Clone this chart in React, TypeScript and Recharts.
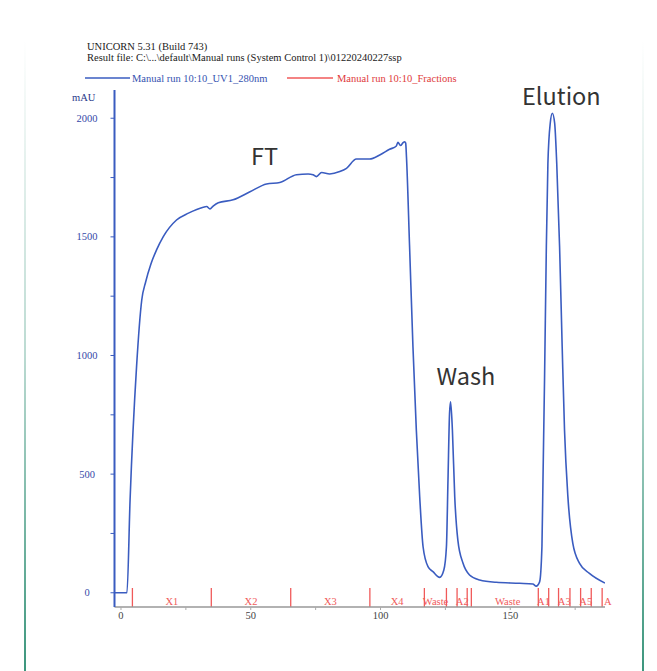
import React from 'react';
import { ComposedChart, Line, XAxis, YAxis, ReferenceLine, ReferenceDot } from 'recharts';

// Run time (ml) and UV 280 nm absorbance (mAU)
const runTime = [
  -2.5, 0, 2.3, 3.5, 6.0, 8.0, 9.5, 11.5, 13.7, 16.3, 21.4, 26, 31.7, 33, 34.3, 35.5, 37.5, 43.2, 49.7,
  56.1, 61.2, 67.6, 72.1, 74, 75.3, 77.3, 80.4, 84.3, 86.9, 90.7, 95.8, 99.7, 103.5, 106.1, 106.7, 107.7,
  108.7, 109.3, 109.7, 110.0, 111.2, 112.5, 113.8, 115.1, 116.4, 118.3, 120.2, 122.8, 124.4, 125.4, 126.0,
  126.6, 127.0, 127.7, 128.6, 129.8, 131.8, 134.3, 138.2, 144.6, 153.6, 158.7, 160.0, 161.3, 162.2, 162.6,
  163.2, 163.9, 164.5, 165.4, 166.2, 167.1, 167.9, 169.0, 170.0, 170.9, 172.2, 174.1, 176.7, 180.5, 186.5,
];
const uv280 = [
  0, 0, 0, 391, 953, 1234, 1310, 1385, 1445, 1501, 1571, 1600, 1625, 1628, 1618, 1630, 1644, 1656, 1690,
  1723, 1729, 1762, 1765, 1762, 1754, 1771, 1765, 1775, 1789, 1828, 1828, 1845, 1869, 1883, 1899, 1885,
  1897, 1901, 1895, 1838, 1459, 1037, 686, 405, 194, 110, 89, 65, 96, 194, 475,
  756, 805, 686, 405, 222, 124, 75, 54, 44, 40, 37, 28, 46, 194, 475,
  897, 1459, 1810, 1979, 2021, 1979, 1810, 1459, 1037, 686, 405, 208, 124, 82, 41,
];

// Fraction marks
const fractionMarks = [4.4, 34.8, 65.4, 95.9, 116.9, 125.4, 129.5, 133.4, 135.0, 160.8, 164.8, 168.6, 173.0, 177.1, 181.2, 185.4];
const fractionNames = ['X1', 'X2', 'X3', 'X4', 'Waste', 'A2', 'Waste', 'A1', 'A3', 'A5'];
const fractionNamePos = [19.6, 50.1, 80.7, 106.4, 121.2, 131.5, 149.0, 162.8, 170.8, 179.1];

const xTicks = [0, 25, 50, 75, 100, 125, 150, 175];
const yTicks = [0, 250, 500, 750, 1000, 1250, 1500, 1750, 2000];

const data = runTime.map((t, i) => ({ t, uv: uv280[i] }));

const SERIF = '"Liberation Serif", "Times New Roman", serif';
const BLUE = '#3a5cc0';
const RED = '#f05a5a';

const YTick = (props: any) => {
  const { y, payload } = props;
  if (payload.value % 500 !== 0) return <g />;
  return (
    <text x={87} y={y + 3.5} textAnchor="middle" fontFamily={SERIF} fontSize={10.5} fill="#3548a8">
      {payload.value}
    </text>
  );
};

const XTick = (props: any) => {
  const { x, payload } = props;
  if (payload.value % 50 !== 0) return <g />;
  return (
    <text x={x} y={619} textAnchor="middle" fontFamily={SERIF} fontSize={10.5} fill="#444">
      {payload.value}
    </text>
  );
};

export default function App() {
  return (
    <div style={{ position: 'absolute', left: 0, top: 0, width: 657, height: 671, background: '#fff', overflow: 'hidden' }}>
      <div style={{ position: 'absolute', left: 24, top: 40, width: 2, height: 631, background: 'linear-gradient(to bottom, rgba(60,150,125,0), rgba(60,150,125,0.35) 50%, rgba(60,150,125,1))' }} />
      <div style={{ position: 'absolute', left: 642, top: 40, width: 2, height: 631, background: 'linear-gradient(to bottom, rgba(60,150,125,0), rgba(60,150,125,0.35) 50%, rgba(60,150,125,1))' }} />
      <div style={{ position: 'absolute', left: 0, top: 0 }}>
        <ComposedChart width={657} height={671} data={data} margin={{ top: 90, right: 52, left: 0, bottom: 34 }}>
          <XAxis
            dataKey="t"
            type="number"
            domain={[-2.5, 186.5]}
            ticks={xTicks}
            allowDataOverflow
            height={30}
            tickSize={3}
            axisLine={{ stroke: '#999', strokeWidth: 1.5 }}
            tickLine={{ stroke: '#aaa' }}
            tick={<XTick />}
            interval={0}
          />
          <YAxis
            type="number"
            domain={[-60, 2119]}
            ticks={yTicks}
            allowDataOverflow
            width={114.5}
            tickSize={4}
            axisLine={{ stroke: BLUE, strokeWidth: 2 }}
            tickLine={{ stroke: BLUE }}
            tick={<YTick />}
            interval={0}
          />
          {fractionMarks.map((f, i) => (
            <ReferenceLine
              key={'fm' + i}
              segment={[{ x: f, y: -60 }, { x: f, y: 20 }]}
              stroke={RED}
              strokeWidth={1.3}
              ifOverflow="visible"
            />
          ))}
          {fractionNames.map((n, i) => (
            <ReferenceDot
              key={'fn' + i}
              x={fractionNamePos[i]}
              y={-37}
              ifOverflow="visible"
              shape={(p: any) => (
                <text x={p.cx} y={p.cy + 3.5} textAnchor="middle" fontFamily={SERIF} fontSize={10.5} fill={RED}>
                  {n}
                </text>
              )}
            />
          ))}
          <Line
            type="monotone"
            dataKey="uv"
            stroke={BLUE}
            strokeWidth={1.6}
            dot={false}
            isAnimationActive={false}
          />
        </ComposedChart>
      </div>
      <svg width={657} height={671} style={{ position: 'absolute', left: 0, top: 0, pointerEvents: 'none' }}>
        <text x={87} y={50} fontFamily={SERIF} fontSize={10.5} fill="#1a1a1a">UNICORN 5.31 (Build 743)</text>
        <text x={87} y={60.5} fontFamily={SERIF} fontSize={10.5} fill="#1a1a1a">
          {'Result file: C:\\...\\default\\Manual runs (System Control 1)\\01220240227ssp'}
        </text>
        <line x1={85} y1={78} x2={130} y2={78} stroke={BLUE} strokeWidth={1.3} />
        <text x={132} y={81.5} fontFamily={SERIF} fontSize={10.5} fill="#3552b0">Manual run 10:10_UV1_280nm</text>
        <line x1={287} y1={78} x2={333} y2={78} stroke={RED} strokeWidth={1.3} />
        <text x={337} y={81.5} fontFamily={SERIF} fontSize={10.5} fill="#e03a3a">Manual run 10:10_Fractions</text>
        <text x={72} y={100.5} fontFamily={SERIF} fontSize={10.5} fill="#2a3a8a">mAU</text>
        <text x={604} y={605} fontFamily={SERIF} fontSize={10.5} fill={RED}>A</text>
        <text x={251} y={165} fontFamily='"Noto Sans CJK SC", "Noto Sans", sans-serif' fontSize={23.5} fill="#333">FT</text>
        <text x={436.5} y={385} fontFamily='"Noto Sans CJK SC", "Noto Sans", sans-serif' fontSize={23.5} fill="#333">Wash</text>
        <text x={522} y={105} fontFamily='"Noto Sans CJK SC", "Noto Sans", sans-serif' fontSize={23.5} fill="#333">Elution</text>
      </svg>
    </div>
  );
}
